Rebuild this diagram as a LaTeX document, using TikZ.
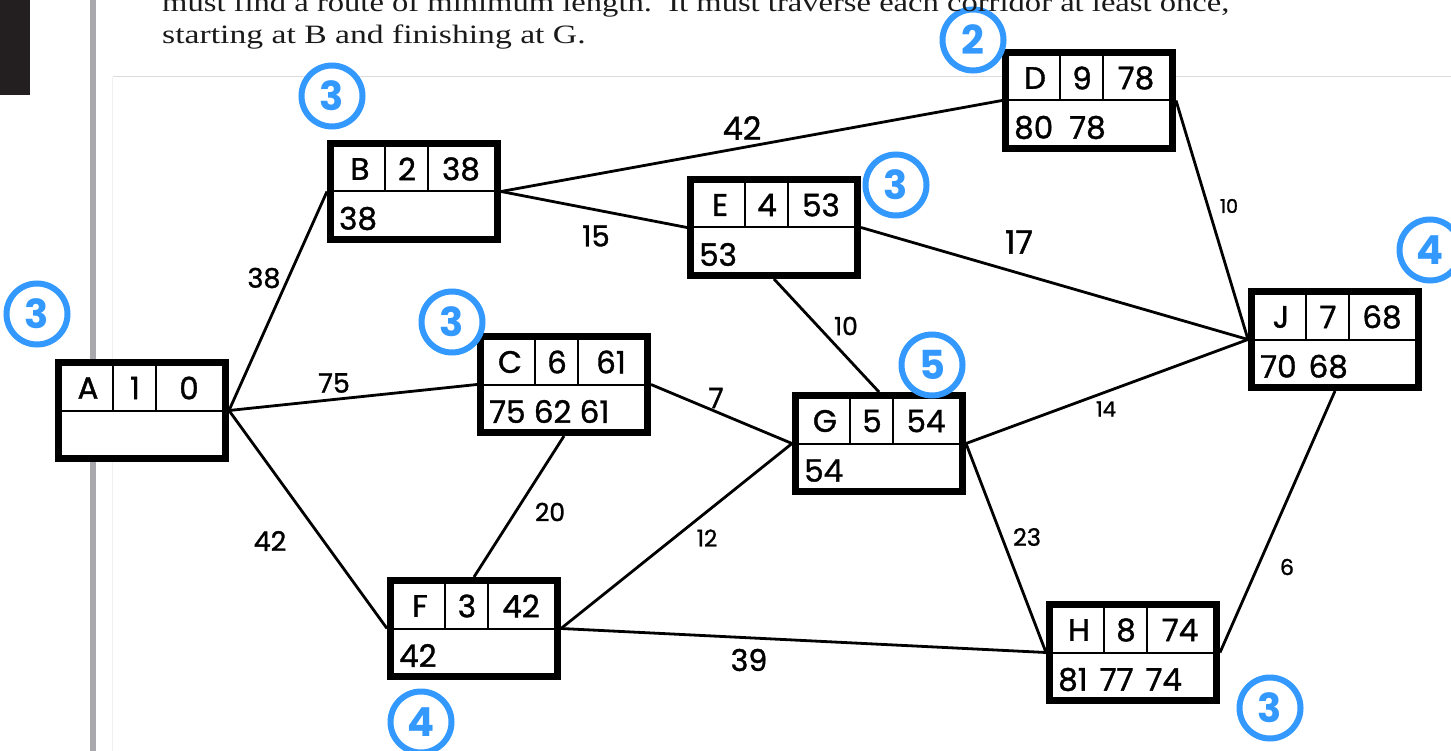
\documentclass[tikz,border=0pt]{standalone}
\usepackage{fontspec}
\setmainfont{Liberation Serif}
\newfontfamily\hand[FakeBold=1.2]{Poppins}
\newfontfamily\markfont{Poppins}
\usetikzlibrary{calc}

\definecolor{markblue}{RGB}{51,153,255}
\definecolor{barblack}{HTML}{231F20}
\definecolor{bargray}{HTML}{A9A8AD}
\definecolor{rulegray}{HTML}{DCDCDC}
\definecolor{faintgray}{HTML}{F0F0F0}
\definecolor{textgray}{HTML}{1A1A1A}

\tikzset{
  task/.style={draw=black, line width=7pt, minimum width=167pt, minimum height=96pt,
               inner sep=0pt, fill=white},
  divider/.style={line width=2pt, black},
  link/.style={line width=2.8pt, black},
  cell/.style={inner sep=0pt, font=\hand\fontsize{31}{31}\selectfont},
  wt/.style={inner sep=0pt, font=\hand\fontsize{#1}{#1}\selectfont},
  seq/.style={circle, draw=markblue, fill=white, line width=6pt, minimum size=61pt,
              inner sep=0pt, text=markblue, font=\markfont\bfseries\fontsize{40}{40}\selectfont},
  prose/.style={anchor=base west, inner sep=0pt, text=textgray,
                font=\fontsize{26.5}{26.5}\selectfont},
}

% activity box: name, outer top-left x, y, letter, number, value, bottom row
\newcommand\taskbox[7]{%
  \node[task] (#1) at (#2+87,#3+51.5) {};
  \draw[divider] (#1.west) -- (#1.east);
  \draw[divider] ($(#1.north west)+(58,0)$) -- ($(#1.west)+(58,0)$);
  \draw[divider] ($(#1.north west)+(101,0)$) -- ($(#1.west)+(101,0)$);
  \node[cell] (#1-l) at ($(#1.north west)+(33,29)$) {#4};
  \node[cell] (#1-n) at ($(#1.north west)+(80,29)$) {#5};
  \node[cell] (#1-v) at ($(#1.north west)+(134,29)$) {#6};
  \node[cell, anchor=west] (#1-b) at ($(#1.west)+(12,27)$) {#7};
}

\begin{document}
\begin{tikzpicture}[x=1pt, y=-1pt]
\clip (0,0) rectangle (1451,751);
\fill[white] (0,0) rectangle (1451,751);

% page furniture
\fill[barblack] (0,0) rectangle (30,95);
\fill[bargray] (90,0) rectangle (96,751);
\draw[rulegray, line width=1pt] (113,77) -- (1451,77);
\draw[faintgray, line width=1pt] (112,77) -- (112,751);

% activity boxes
\taskbox{A}{55}{359}{A}{1}{0}{}
\taskbox{B}{327}{140}{B}{2}{38}{38}
\taskbox{E}{687}{176}{E}{4}{53}{53}
\taskbox{D}{1002}{49}{D}{9}{78}{80\hspace{16pt}78}
\taskbox{J}{1248}{288}{J}{7}{68}{70\hspace{12pt}68}
\taskbox{C}{477}{333}{C}{6}{61}{75 62 61}
\taskbox{G}{792}{392}{G}{5}{54}{54}
\taskbox{F}{387}{577}{F}{3}{42}{42}
\taskbox{H}{1046}{601}{H}{8}{74}{81\hspace{12pt}77\hspace{12pt}74}

% corridors
\draw[link] (A.east) -- (B.west);
\draw[link] (A.east) -- (C.west);
\draw[link] (A.east) -- (F.west);
\draw[link] (B.east) -- (D.west);
\draw[link] (B.east) -- (E.west);
\draw[link] (E.east) -- (J.west);
\draw[link] (E.south) -- (G.north);
\draw[link] (C.east) -- (G.west);
\draw[link] (C.south) -- (F.north);
\draw[link] (F.east) -- (G.west);
\draw[link] (F.east) -- (H.west);
\draw[link] (G.east) -- (J.west);
\draw[link] (G.east) -- (H.west);
\draw[link] (D.east) -- (J.west);
\draw[link] (J.south) -- (H.east);

% corridor lengths
\node[wt=32] (wBD) at (742,128) {42};
\node[wt=29] (wBE) at (596,236) {15};
\node[wt=27] (wAB) at (264,278) {38};
\node[wt=27] (wAC) at (334,383) {75};
\node[wt=27] (wAF) at (270,541) {42};
\node[wt=25] (wCF) at (550,512) {20};
\node[wt=28] (wCG) at (716,398) {7};
\node[wt=25] (wEG) at (846,326) {10};
\node[wt=23] (wFG) at (707,538) {12};
\node[wt=30] (wFH) at (749,660) {39};
\node[wt=32] (wEJ) at (1019,242) {17};
\node[wt=19] (wDJ) at (1229,206) {10};
\node[wt=21] (wGJ) at (1106,409) {14};
\node[wt=24] (wGH) at (1027,537) {23};
\node[wt=22] (wJH) at (1287,567) {6};

% circled counts
\node[seq] (cA) at (37,314) {3};
\node[seq] (cB) at (332,96) {3};
\node[seq] (cD) at (973,40) {2};
\node[seq] (cE) at (896,185) {3};
\node[seq] (cC) at (452,322) {3};
\node[seq] (cG) at (932,365) {5};
\node[seq] (cJ) at (1430,250) {4};
\node[seq] (cF) at (421,722) {4};
\node[seq] (cH) at (1270,708) {3};

% question text
\node[prose] (line1) at (162,12) {\scalebox{1.23}[1]{must find a route of minimum length.\ \ It must traverse each corridor at least once,}};
\node[prose] (line2) at (162,44) {\scalebox{1.27}[1]{starting at B and finishing at G.}};
\end{tikzpicture}
\end{document}
